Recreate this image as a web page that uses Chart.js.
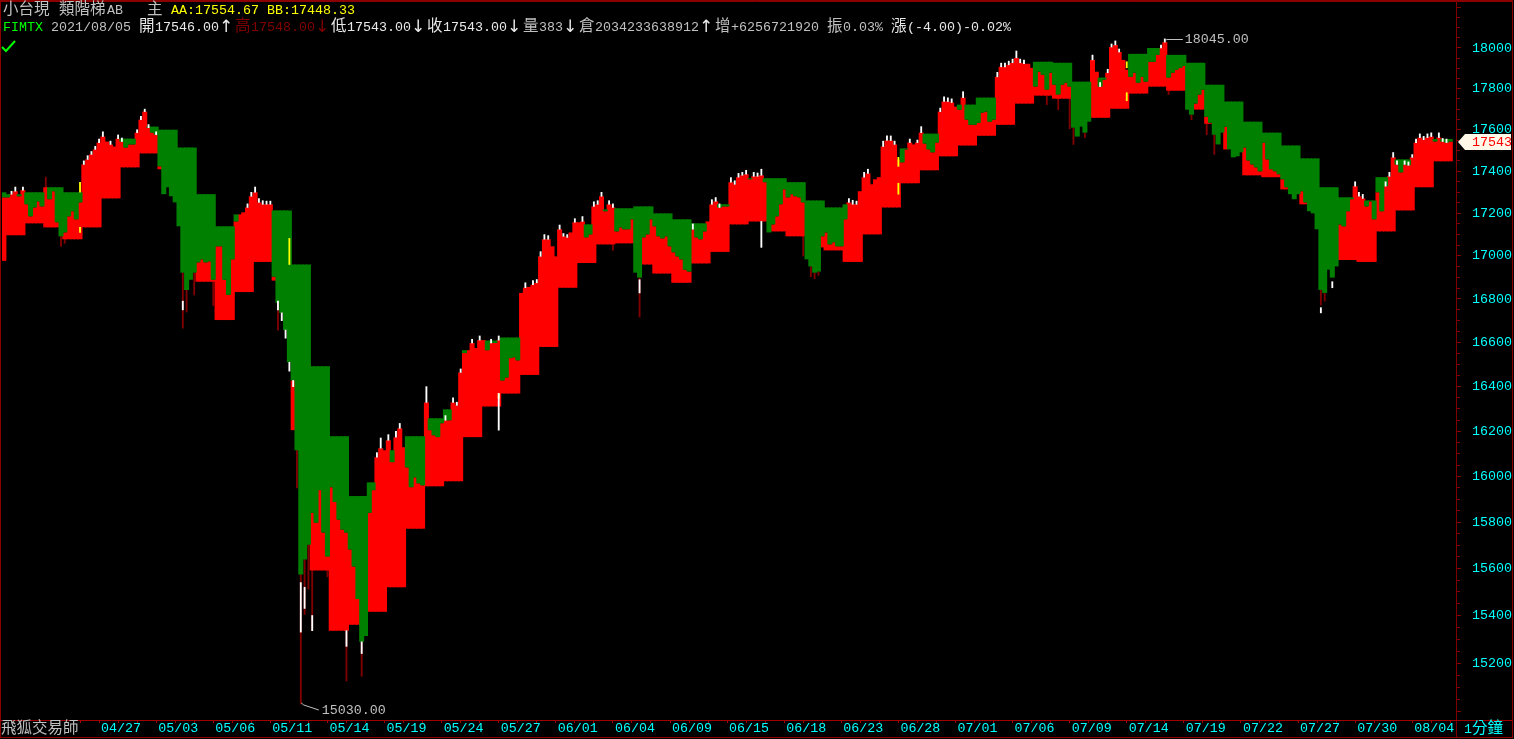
<!DOCTYPE html>
<html><head><meta charset="utf-8">
<style>html,body{margin:0;padding:0;background:#000;overflow:hidden}canvas{display:block}</style>
<script src="https://cdn.jsdelivr.net/npm/chart.js@4"></script>
</head><body><canvas id="c" width="1514" height="739" style="width:1514px;height:739px"></canvas>
<script>
const dateLabels=["04/27","05/03","05/06","05/11","05/14","05/19","05/24","05/27","06/01","06/04","06/09","06/15","06/18","06/23","06/28","07/01","07/06","07/09","07/14","07/19","07/22","07/27","07/30","08/04"];
const yTickLabels=[15200,15400,15600,15800,16000,16200,16400,16600,16800,17000,17200,17400,17600,17800,18000];
const price=[17276,17276,17291,17305,17281,17310,17243,17186,17228,17257,17233,17324,17267,17305,17158,17092,17110,17186,17210,17172,
17252,17433,17457,17481,17505,17538,17567,17543,17529,17519,17557,17543,17514,17529,17529,17586,17649,17688,17610,17586,
17576,17424,17291,17324,17281,17252,17139,16922,16842,16889,16922,16970,16984,16970,16975,16889,17045,17045,16889,16819,
16984,17162,17195,17205,17228,17281,17300,17252,17243,17243,17243,16903,16782,16736,16657,16510,16428,16116,15575,15639,
15703,15841,15798,15940,15755,15652,15953,15888,15811,15768,15755,15682,15609,15470,15289,15314,15841,15940,16085,16125,
16116,16160,16063,16174,16213,16129,16040,15953,15996,15970,15961,16329,16205,16182,16174,16236,16249,16249,16329,16316,
16464,16552,16565,16598,16575,16611,16611,16565,16598,16598,16611,16428,16441,16529,16533,16519,16828,16852,16856,16866,
16875,16998,17078,17078,17045,16998,17125,17092,17087,17110,17158,17158,17162,17087,17101,17233,17243,17281,17210,17243,
17228,17115,17134,17125,17125,17172,16922,16899,17087,17101,17172,17139,17092,17082,17092,17045,17017,16998,16984,16936,
16927,17125,17087,17078,17115,17162,17243,17257,17228,17233,17233,17348,17338,17372,17381,17386,17362,17376,17376,17381,
17348,17110,17148,17186,17243,17314,17276,17291,17281,17276,17252,16984,16951,16922,16927,17092,17110,17054,17064,17045,
17045,17172,17252,17243,17243,17305,17372,17390,17338,17362,17372,17519,17548,17548,17529,17457,17443,17505,17538,17529,
17538,17586,17533,17505,17491,17538,17688,17737,17737,17732,17712,17697,17756,17649,17624,17624,17634,17683,17688,17639,
17649,17858,17907,17907,17917,17927,17951,17927,17922,17922,17902,17810,17883,17868,17795,17878,17819,17771,17819,17829,
17810,17610,17567,17615,17586,17639,17941,17883,17810,17844,17878,18005,18015,17980,17941,17893,17858,17878,17829,17858,
17834,17932,17932,17966,18000,18029,17854,17878,17893,17902,17912,17697,17673,17727,17771,17795,17663,17634,17576,17529,
17586,17615,17505,17467,17472,17491,17514,17452,17433,17419,17400,17538,17457,17410,17400,17386,17362,17324,17291,17267,
17291,17305,17252,17210,17200,17125,16842,16828,16936,16899,16951,17148,17139,17210,17267,17329,17281,17271,17233,17257,
17172,17300,17210,17329,17376,17467,17433,17395,17433,17429,17467,17538,17562,17552,17562,17567,17543,17562,17543,17538,17543];
const upperStep=[17300,17291,17300,17324,17300,17362,17457,17557,17615,17600,17514,17291,17139,17195,17219,17214,16960,16492,16178,15914,15974,
16116,16178,16258,16298,16565,16609,16623,16703,16866,17078,17148,17219,17224,17233,17200,17172,17153,17243,17314,17367,
17367,17348,17261,17228,17243,17314,17410,17510,17581,17649,17722,17756,17819,17893,17932,17927,17834,17854,17893,17971,
18000,17966,17927,17819,17737,17639,17586,17524,17462,17324,17276,17261,17372,17457,17529,17555];
const lowerStep=[16977,17097,17153,17134,17078,17134,17271,17419,17486,17410,17139,16880,16703,16832,16972,16885,16205,15592,15336,15361,15416,
15520,15772,15957,15979,16174,16311,16369,16453,16580,16852,16967,17054,17059,16960,16918,16875,16965,17019,17148,17162,
17115,17092,17040,17026,16972,17101,17228,17343,17405,17472,17524,17571,17624,17727,17766,17751,17639,17658,17702,17776,
17810,17790,17698,17629,17505,17381,17372,17314,17243,17026,16981,16972,17115,17214,17324,17448];
const tipIdx=[2,3,5,21,22,23,24,25,26,28,30,31,35,36,37,38,40,64,65,66,67,68,69,70,98,99,101,103,104,111,116,118,119,120,123,125,128,130,137,139,140,141,142,143,146,147,148,150,152,155,156,157,159,160,181,186,187,188,191,192,193,194,195,197,198,199,222,223,224,226,227,231,232,233,234,238,240,241,246,247,248,249,252,261,262,263,264,265,266,267,268,286,288,290,291,292,293,304,305,355,356,357,363,364,365,366,368,369,370,371,372,373,374,375,377,378,379];
const tipHigh=[17305,17325,17325,17450,17475,17495,17520,17555,17590,17545,17575,17560,17600,17665,17700,17625,17590,17245,17300,17325,17270,17260,17258,17258,16105,16170,16185,16200,16235,16400,16270,16350,16330,16480,16615,16630,16615,16630,16875,16885,16890,17020,17100,17095,17145,17105,17100,17175,17185,17255,17260,17300,17260,17245,17150,17265,17275,17245,17370,17355,17390,17395,17405,17395,17392,17410,17270,17262,17258,17395,17410,17545,17570,17570,17545,17555,17550,17615,17705,17760,17755,17750,17785,17880,17925,17925,17935,17945,17985,17945,17940,17965,17830,17895,18020,18035,17995,18015,18045,17350,17300,17290,17350,17395,17490,17450,17450,17445,17480,17555,17580,17568,17580,17585,17585,17558,17555];
const darkIdx=[11,15,16,47,48,50,55,72,77,78,79,80,81,85,90,94,160,167,210,212,213,214,274,277,280,281,284,306,312,316,318,346,347];
const darkLow=[17324,17045,17059,16666,16740,16819,16770,16657,15950,15030,15405,15512,15336,15565,15125,15145,17026,16717,17000,16903,16894,16910,17722,17697,17605,17529,17562,17771,17649,17576,17481,16772,16790];
const darkHigh=[17372,17092,17110,16922,16842,16922,16889,16782,16116,15575,15639,15703,15841,15652,15755,15289,17228,16899,17252,16951,16922,16927,17795,17771,17810,17610,17586,17854,17673,17663,17576,16842,16828];
const lineIdx=[47,72,73,74,75,76,78,79,81,90,94,130,167,199,346,349];
const lineLow=[16750,16750,16700,16620,16470,16400,15330,15430,15336,15270,15240,16205,16828,17040,16736,16852];
const lineHigh=[16790,16790,16736,16657,16510,16428,15540,15520,15400,15336,15289,16369,16889,17162,16760,16880];
const yellowIdx=[20,20,75,130,235,235,295,295];
const yellowLow=[17300,17110,16960,16347,17424,17291,17902,17741];
const yellowHigh=[17348,17134,17082,16369,17467,17343,17932,17780];
const lastPrice=17543, peakPrice=18045, troughPrice=15030;
const peakIdx=305, troughIdx=78;

const MONO='13.33px "Liberation Mono"', CJK='15.5px "Noto Sans CJK TC"', ARROW='17px "DejaVu Sans"';
const WHITE='#e8e8e8',GRAY='#c0c0c0',DRED='#800000',YEL='#ffff00',CYAN='#00ffff';
const headerRuns=[
 ['小台現',3,14,GRAY,CJK],['類階梯',59,14,GRAY,CJK],['AB',107,14,GRAY,MONO],['主',147,14,GRAY,CJK],
 ['AA:17554.67',171,14,YEL,MONO],['BB:17448.33',267,14,YEL,MONO],
 ['FIMTX',3,31,'#00ff00',MONO],['2021/08/05',51,31,GRAY,MONO],
 ['開',139,31,WHITE,CJK],['17546.00',155,31,WHITE,MONO],['↑',219,32,WHITE,ARROW],
 ['高',235,31,DRED,CJK],['17548.00',251,31,DRED,MONO],['↓',315,32,DRED,ARROW],
 ['低',331,31,WHITE,CJK],['17543.00',347,31,WHITE,MONO],['↓',411,32,WHITE,ARROW],
 ['收',427,31,WHITE,CJK],['17543.00',443,31,WHITE,MONO],['↓',507,32,WHITE,ARROW],
 ['量',523,31,GRAY,CJK],['383',539,31,GRAY,MONO],['↓',563,32,WHITE,ARROW],
 ['倉',579,31,GRAY,CJK],['2034233638912',595,31,GRAY,MONO],['↑',699,32,WHITE,ARROW],
 ['增',715,31,GRAY,CJK],['+6256721920',731,31,GRAY,MONO],
 ['振',827,31,GRAY,CJK],['0.03%',843,31,GRAY,MONO],
 ['漲',891,31,WHITE,CJK],['(-4.00)-0.02%',907,31,WHITE,MONO],
 ['飛狐交易師',1,733,GRAY,CJK],
 ['1',1464,733,CYAN,MONO],['分鐘',1472,733,CYAN,CJK]
];

const labels=Array.from({length:price.length+1},(_,i)=>i);
const stepOf=i=>Math.ceil(i/5);
const greenData=price.map((p,i)=>p<upperStep[stepOf(i)]?[p,upperStep[stepOf(i)]]:null);
const redData=price.map((p,i)=>p>lowerStep[stepOf(i)]?[lowerStep[stepOf(i)],p]:null);
const darkData=darkIdx.map((x,k)=>({x,y:[darkLow[k],darkHigh[k]]}));
const whiteData=tipIdx.map((x,k)=>({x,y:[price[x],tipHigh[k]]})).concat(lineIdx.map((x,k)=>({x,y:[lineLow[k],lineHigh[k]]})));
const yellowData=yellowIdx.map((x,k)=>({x,y:[yellowLow[k],yellowHigh[k]]}));

const decor={id:'decor',afterDraw(chart){
  const ctx=chart.ctx,X=chart.scales.x,Y=chart.scales.y,A=chart.chartArea;
  ctx.save();
  ctx.strokeStyle='#8c0000';ctx.lineWidth=1;
  ctx.strokeRect(.5,.5,1512,737);
  ctx.beginPath();ctx.moveTo(0,1.5);ctx.lineTo(1513,1.5);ctx.stroke();
  ctx.strokeStyle='#800000';
  ctx.beginPath();ctx.moveTo(A.right+.5,0);ctx.lineTo(A.right+.5,738);ctx.stroke();
  ctx.strokeStyle='#a00000';ctx.beginPath();ctx.moveTo(0,720.5);ctx.lineTo(1513,720.5);ctx.stroke();
  ctx.textBaseline='alphabetic';ctx.textAlign='left';
  headerRuns.forEach(([t,x,y,c,f])=>{ctx.font=f;ctx.fillStyle=c;ctx.fillText(t,x,y);});
  ctx.strokeStyle='#00ff00';ctx.lineWidth=2;ctx.beginPath();ctx.moveTo(2,47);ctx.lineTo(6,51);ctx.lineTo(15,41);ctx.stroke();
  ctx.strokeStyle=GRAY;ctx.lineWidth=1;ctx.font=MONO;ctx.fillStyle=GRAY;ctx.textBaseline='middle';
  const px=X.getPixelForValue(peakIdx),py=Math.round(Y.getPixelForValue(peakPrice));
  ctx.beginPath();ctx.moveTo(px,py+2);ctx.lineTo(px+2,py+.5);ctx.lineTo(px+18,py+.5);ctx.stroke();
  ctx.fillText(peakPrice.toFixed(2),px+20,py);
  const tx=X.getPixelForValue(troughIdx),ty=Math.round(Y.getPixelForValue(troughPrice));
  ctx.beginPath();ctx.moveTo(tx+.5,ty-1);ctx.lineTo(tx+3,ty+1);ctx.lineTo(tx+18,ty+6);ctx.stroke();
  ctx.fillText(troughPrice.toFixed(2),tx+21,ty+6);
  const by=Math.round(Y.getPixelForValue(lastPrice));
  ctx.fillStyle='#fff8e8';ctx.beginPath();ctx.moveTo(A.right+2,by);ctx.lineTo(A.right+9,by-8);ctx.lineTo(1511,by-8);ctx.lineTo(1511,by+8);ctx.lineTo(A.right+9,by+8);ctx.closePath();ctx.fill();
  ctx.fillStyle='#ff0000';ctx.font=MONO;ctx.fillText(String(lastPrice),1472,by);
  ctx.restore();
}};

const ff={family:'"Liberation Mono"',size:13.33};
new Chart(document.getElementById('c'),{
  type:'bar',
  data:{labels,datasets:[
    {data:greenData,backgroundColor:'#008000',order:1},
    {data:redData,backgroundColor:'#ff0000',order:1},
    {data:darkData,backgroundColor:'#800000',order:2,barThickness:1.2},
    {data:whiteData,backgroundColor:'#ffffff',order:0,barThickness:1.2},
    {data:yellowData,backgroundColor:'#ffff00',order:0,barThickness:1.2}
  ]},
  options:{
    responsive:false,animation:false,devicePixelRatio:1,
    layout:{padding:{left:2,top:2,right:0,bottom:0}},
    datasets:{bar:{grouped:false,borderWidth:0,barPercentage:1.32,categoryPercentage:1}},
    plugins:{legend:{display:false},tooltip:{enabled:false},title:{display:false}},
    scales:{
      x:{type:'category',offset:true,
        grid:{drawOnChartArea:false,offset:false,tickLength:3,tickColor:'#a00000',color:'#a00000'},
        border:{color:'#a00000',width:1},
        afterBuildTicks(s){s.ticks=labels.filter(i=>i>=20&&(i-25)%5===0&&i<=380).map(v=>({value:v}));},
        afterFit(s){s.height=19;s.paddingLeft=0;s.paddingRight=0;},
        ticks:{autoSkip:false,maxRotation:0,minRotation:0,align:'start',labelOffset:2,padding:-3,color:CYAN,font:ff,
          callback(v){const k=(v-25)/15;return Number.isInteger(k)&&k>=0?dateLabels[k]:'';}}
      },
      y:{type:'logarithmic',position:'right',min:14964,max:18229,
        grid:{drawOnChartArea:false,tickLength:5,tickColor:'#800000',
          tickBorderDash:c=>(c.tick&&c.tick.value%200===0)?[]:[3,20]},
        border:{color:'#800000',width:1},
        afterBuildTicks(s){const t=[];for(let v=15000;v<=18200;v+=50)t.push({value:v});s.ticks=t;},
        afterFit(s){s.width=58;s.paddingTop=0;s.paddingBottom=0;},
        ticks:{autoSkip:false,padding:11,color:CYAN,font:ff,
          callback(v){return yTickLabels.includes(v)?String(v):'';}}
      }
    }
  },
  plugins:[decor]
});
</script></body></html>
